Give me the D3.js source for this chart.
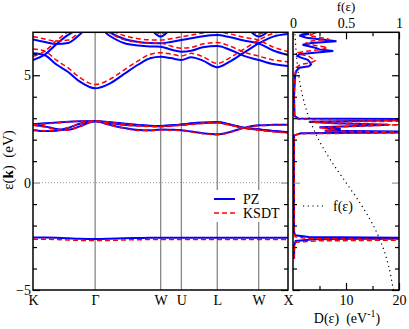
<!DOCTYPE html>
<meta charset="utf-8">
<style>
body { margin: 0; background: #fff; }
text { font-family: "Liberation Serif", "DejaVu Serif", serif; font-size: 14px; fill: #000; }
</style>
<svg width="409" height="329"></svg>
<script src="https://d3js.org/d3.v7.min.js"></script>
<script>

// high-symmetry points along the path (2pi/a units)
var kNodes = [0, 1.0607, 2.1787, 2.5323, 3.1447, 3.8518, 4.3518];
var kLabels = ["K", "Γ", "W", "U", "L", "W", "X"];
var kGrid = [0, 0.2, 0.4, 0.6, 0.8, 1.0607, 1.3, 1.55, 1.8, 2.0, 2.1787, 2.35, 2.5323, 2.7, 2.9, 3.1447, 3.35, 3.6, 3.8518, 4.1, 4.3518];

// PZ bands (eV)
var pzS  = [-2.56,-2.56,-2.57,-2.59,-2.61,-2.62,-2.61,-2.59,-2.58,-2.57,-2.57,-2.57,-2.57,-2.57,-2.57,-2.57,-2.57,-2.57,-2.57,-2.57,-2.57];
var pzD1 = [2.72,2.76,2.80,2.84,2.86,2.87,2.82,2.75,2.68,2.65,2.64,2.67,2.71,2.76,2.80,2.82,2.72,2.55,2.47,2.40,2.35];
var pzD2 = [2.44,2.40,2.42,2.55,2.74,2.86,2.70,2.55,2.45,2.44,2.47,2.46,2.44,2.38,2.30,2.25,2.35,2.55,2.67,2.69,2.70];
var pzD3 = [2.70,2.62,2.50,2.46,2.62,2.86,2.78,2.70,2.66,2.64,2.63,2.66,2.70,2.74,2.78,2.80,2.70,2.56,2.48,2.40,2.33];
var pzC1 = [6.02,5.93,5.50,5.15,4.70,4.39,4.60,5.05,5.50,5.79,5.86,5.80,5.71,5.84,5.68,5.37,5.62,6.05,6.48,6.80,6.92];
var pzC2 = [5.71,5.96,6.45,6.88,7.15,7.35,6.85,6.50,6.38,6.34,6.33,6.20,6.10,6.14,6.30,6.36,6.20,5.90,5.71,5.52,5.43];
var pzC3 = [6.67,6.55,6.45,6.50,6.90,7.60,7.02,6.70,6.55,6.50,6.49,6.55,6.64,6.72,6.82,6.87,6.78,6.62,6.48,6.15,5.94];
var pzC4 = [7.60,7.60,7.70,7.80,7.90,8.00,7.90,7.70,7.40,7.15,6.80,7.15,7.40,7.40,7.35,7.30,7.30,7.25,6.80,7.20,7.50];

// KSDT bands (eV)
var ksS  = [-2.64,-2.64,-2.65,-2.67,-2.69,-2.70,-2.69,-2.67,-2.66,-2.65,-2.65,-2.65,-2.65,-2.65,-2.65,-2.65,-2.65,-2.65,-2.65,-2.65,-2.65];
var ksD1 = [2.69,2.73,2.78,2.83,2.86,2.87,2.81,2.73,2.66,2.62,2.61,2.64,2.68,2.73,2.77,2.80,2.70,2.53,2.44,2.37,2.32];
var ksD2 = [2.46,2.42,2.44,2.56,2.74,2.86,2.69,2.53,2.43,2.42,2.45,2.44,2.42,2.36,2.28,2.23,2.33,2.53,2.65,2.67,2.68];
var ksD3 = [2.67,2.59,2.48,2.45,2.61,2.86,2.77,2.68,2.64,2.61,2.60,2.63,2.67,2.71,2.75,2.78,2.68,2.54,2.46,2.38,2.31];
var ksC1 = [6.22,6.12,5.70,5.34,4.89,4.57,4.79,5.24,5.68,5.98,6.05,5.99,5.90,6.02,5.86,5.55,5.80,6.22,6.64,6.95,7.08];
var ksC2 = [5.88,6.12,6.61,7.03,7.30,7.50,7.00,6.66,6.54,6.50,6.49,6.36,6.26,6.30,6.46,6.52,6.37,6.08,5.89,5.71,5.63];
var ksC3 = [6.80,6.69,6.59,6.64,7.04,7.75,7.16,6.85,6.70,6.65,6.64,6.70,6.79,6.87,6.97,7.02,6.93,6.77,6.63,6.31,6.10];
var ksC4 = [7.72,7.72,7.82,7.92,8.02,8.12,8.02,7.82,7.52,7.27,6.92,7.27,7.52,7.52,7.47,7.42,7.42,7.37,6.92,7.32,7.62];

// density of states (eV^-1)
var pzDosE = [-3.55,-2.9,-2.72,-2.64,-2.58,-2.53,-2.45,-2.3, 2.2,2.3,2.36,2.42,2.5,2.58,2.64,2.7,2.76,2.84,2.94,2.99,3.1, 4.0,4.5,5.0,5.2,5.35,5.42,5.5,5.6,5.72,5.82,5.9,5.98, 6.05,6.13,6.2,6.28,6.35,6.42,6.5,6.58,6.66,6.75,6.85,6.92,7.0];
var pzDos  = [0.2,0.25,0.5,4,30,3,0.4,0.2, 0.2,1.5,30,6,9,5,12,18,8,3,30,1,0.3, 0.2,0.3,0.4,0.6,1.2,3.0,3.4,3.2,2.8,1.5,0.8,1.2, 4.0,7.6,5.0,4.2,3.0,1.8,3.5,8.2,5.5,2.5,1.2,3.0,1.5];
var ksDosE = [-3.55,-2.95,-2.78,-2.71,-2.66,-2.61,-2.52,-2.35, 2.2,2.28,2.33,2.4,2.48,2.56,2.62,2.69,2.75,2.82,2.88,2.95,3.05, 4.0,4.6,5.1,5.35,5.5,5.58,5.68,5.78,5.88,5.96, 6.05,6.12,6.2,6.3,6.4,6.5,6.6,6.68,6.76,6.85,6.95,7.0];
var ksDos  = [0.2,0.25,0.5,5,30,3,0.4,0.2, 0.2,1.5,30,6,8,5,11,20,8,3,30,1,0.3, 0.2,0.3,0.4,0.6,1.4,3.4,4.2,3.6,3.0,1.5, 1.0,2.5,5.5,6.5,4.0,2.5,3.5,6.8,5.0,3.0,4.0,2.5];

// occupation f(e)
var fE   = [-5,-4,-3,-2,-1,0,1,2,3,4,5,6,7];
var fVal = [0.946,0.908,0.847,0.758,0.639,0.5,0.361,0.242,0.153,0.092,0.054,0.031,0.018];

var bandsPZ = [pzS, pzD1, pzD2, pzD3, pzC1, pzC2, pzC3, pzC4];
var bandsKS = [ksS, ksD1, ksD2, ksD3, ksC1, ksC2, ksC3, ksC4];

var svg = d3.select("svg"),
    top0 = 32.3, bot0 = 290,
    left0 = 33, right0 = 288,
    left1 = 293, right1 = 399;

var x = d3.scaleLinear().domain([0, 4.3518]).range([left0, right0]);
var y = d3.scaleLinear().domain([-5, 7]).range([bot0, top0]);
var xd = d3.scaleLinear().domain([0, 20]).range([left1, right1]);
var xf = d3.scaleLinear().domain([0, 1]).range([left1, right1]);

var defs = svg.append("defs");
defs.append("clipPath").attr("id", "clipL").append("rect")
    .attr("x", left0).attr("y", top0).attr("width", right0 - left0).attr("height", bot0 - top0);
defs.append("clipPath").attr("id", "clipR").append("rect")
    .attr("x", left1).attr("y", top0).attr("width", right1 - left1).attr("height", bot0 - top0);

var gL = svg.append("g").attr("clip-path", "url(#clipL)");

// high symmetry lines
gL.selectAll(".sym")
  .data(kNodes.slice(1, 6))
  .enter().append("line")
    .attr("x1", function(d) { return x(d); }).attr("x2", function(d) { return x(d); })
    .attr("y1", top0).attr("y2", bot0)
    .attr("stroke", "#888").attr("stroke-width", 1.3);

// fermi level
gL.append("line")
    .attr("x1", left0).attr("x2", right0)
    .attr("y1", y(0)).attr("y2", y(0))
    .attr("stroke", "#999").attr("stroke-width", 1).attr("stroke-dasharray", "1,2");

// legend background hides the symmetry lines
gL.append("rect")
    .attr("x", 205).attr("y", 190).attr("width", 82).attr("height", 32)
    .attr("fill", "#fff");

var band = d3.line()
    .x(function(d, i) { return x(kGrid[i]); })
    .y(function(d) { return y(d); })
    .curve(d3.curveMonotoneX);

gL.selectAll(".pz")
  .data(bandsPZ)
  .enter().append("path")
    .attr("d", band)
    .attr("fill", "none").attr("stroke", "#0000ff").attr("stroke-width", 2);

gL.selectAll(".ks")
  .data(bandsKS)
  .enter().append("path")
    .attr("d", band)
    .attr("fill", "none").attr("stroke", "#ff0000").attr("stroke-width", 1.5)
    .attr("stroke-dasharray", "5,3");

// DOS panel
var gR = svg.append("g").attr("clip-path", "url(#clipR)");

function dosLine(E) {
  return d3.line()
    .x(function(d) { return xd(d); })
    .y(function(d, i) { return y(E[i]); });
}

gR.append("path")
    .attr("d", dosLine(pzDosE)(pzDos))
    .attr("fill", "none").attr("stroke", "#0000ff").attr("stroke-width", 2);

gR.append("path")
    .attr("d", dosLine(ksDosE)(ksDos))
    .attr("fill", "none").attr("stroke", "#ff0000").attr("stroke-width", 1.5)
    .attr("stroke-dasharray", "5,3");

gR.append("path")
    .attr("d", d3.line()
      .x(function(d) { return xf(d); })
      .y(function(d, i) { return y(fE[i]); })
      .curve(d3.curveCatmullRom)(fVal))
    .attr("fill", "none").attr("stroke", "#000").attr("stroke-width", 1.2)
    .attr("stroke-dasharray", "1.2,3.5");

// axes
function styleAxis(g) {
  g.attr("font-family", null).attr("font-size", null).attr("color", "#000");
  g.select(".domain").remove();
  g.selectAll(".tick line").attr("stroke-width", 1.2)
    .filter(function(d) { return d === 0; }).attr("stroke", "#999");
}

var majY = [-5, 0, 5], minY = [-4, -3, -2, -1, 1, 2, 3, 4, 6];

svg.append("g").attr("transform", "translate(" + left0 + ",0)")
    .call(d3.axisLeft(y).tickValues(majY).tickSize(-7).tickPadding(2)).call(styleAxis);
[left0, left1].forEach(function(px) {
  svg.append("g").attr("transform", "translate(" + px + ",0)")
      .call(d3.axisLeft(y).tickValues(minY).tickSize(-4).tickFormat("")).call(styleAxis);
});
svg.append("g").attr("transform", "translate(" + left1 + ",0)")
    .call(d3.axisLeft(y).tickValues(majY).tickSize(-7).tickFormat("")).call(styleAxis);
[right0, right1].forEach(function(px) {
  svg.append("g").attr("transform", "translate(" + px + ",0)")
      .call(d3.axisRight(y).tickValues(majY).tickSize(-7).tickFormat("")).call(styleAxis);
  svg.append("g").attr("transform", "translate(" + px + ",0)")
      .call(d3.axisRight(y).tickValues(minY).tickSize(-4).tickFormat("")).call(styleAxis);
});

svg.append("g").attr("transform", "translate(0," + bot0 + ")")
    .call(d3.axisBottom(x).tickValues(kNodes).tickSize(0).tickPadding(5)
      .tickFormat(function(d, i) { return kLabels[i]; })).call(styleAxis);

svg.append("g").attr("transform", "translate(0," + bot0 + ")")
    .call(d3.axisBottom(xd).tickValues([10, 20]).tickSize(-7).tickPadding(5)).call(styleAxis);
svg.append("g").attr("transform", "translate(0," + bot0 + ")")
    .call(d3.axisBottom(xd).tickValues([5, 15]).tickSize(-4).tickFormat("")).call(styleAxis);

svg.append("g").attr("transform", "translate(0," + top0 + ")")
    .call(d3.axisTop(xf).tickValues([0, 0.5, 1]).tickSize(-7).tickPadding(4)
      .tickFormat(function(d) { return d === 0.5 ? "0.5" : d; })).call(styleAxis);
svg.append("g").attr("transform", "translate(0," + top0 + ")")
    .call(d3.axisTop(xf).tickValues([0.25, 0.75]).tickSize(-4).tickFormat("")).call(styleAxis);

// frames
[[left0, right0], [left1, right1]].forEach(function(p) {
  svg.append("rect")
      .attr("x", p[0]).attr("y", top0).attr("width", p[1] - p[0]).attr("height", bot0 - top0)
      .attr("fill", "none").attr("stroke", "#000").attr("stroke-width", 1.5);
});

// titles
svg.append("text")
    .attr("transform", "translate(12.5,160) rotate(-90)")
    .attr("text-anchor", "middle").attr("xml:space", "preserve")
    .style("font-size", "15px")
    .html("ε(<tspan font-weight=\"bold\">k</tspan>)  (eV)");

svg.append("text")
    .attr("x", 346).attr("y", 11).attr("text-anchor", "middle")
    .style("font-size", "13px")
    .text("f(ε)");

svg.append("text")
    .attr("x", 347).attr("y", 323).attr("text-anchor", "middle").attr("xml:space", "preserve")
    .html("D(ε)  (eV<tspan font-size=\"10\" dy=\"-6\">-1</tspan><tspan dy=\"6\">)</tspan>");

// legends
var leg = svg.append("g");
leg.append("line").attr("x1", 214).attr("x2", 235).attr("y1", 199).attr("y2", 199)
    .attr("stroke", "#0000ff").attr("stroke-width", 2);
leg.append("text").attr("x", 243).attr("y", 204).text("PZ");
leg.append("line").attr("x1", 214).attr("x2", 235).attr("y1", 213).attr("y2", 213)
    .attr("stroke", "#ff0000").attr("stroke-width", 1.5).attr("stroke-dasharray", "5,3");
leg.append("text").attr("x", 243).attr("y", 218).text("KSDT");

leg.append("line").attr("x1", 303).attr("x2", 324).attr("y1", 206).attr("y2", 206)
    .attr("stroke", "#000").attr("stroke-width", 1.2).attr("stroke-dasharray", "1.2,3.5");
leg.append("text").attr("x", 333).attr("y", 211).text("f(ε)");

</script>
